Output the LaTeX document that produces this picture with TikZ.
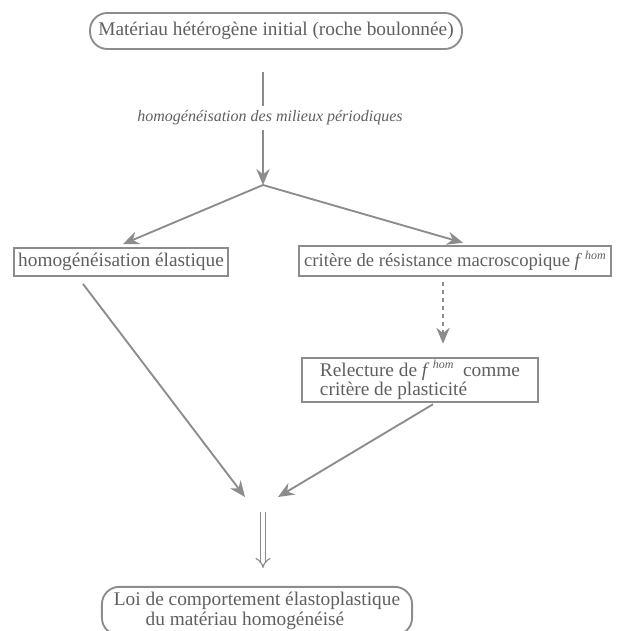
\documentclass[tikz,border=0pt]{standalone}
\usepackage{fontspec}
\setmainfont{Liberation Serif}
\usetikzlibrary{arrows.meta,calc}

\definecolor{scanline}{RGB}{140,140,140}
\definecolor{scantext}{RGB}{95,95,95}

\tikzset{
  flowbox/.style={draw=scanline, line width=1.4pt, text=scantext, font=\fontsize{14.5}{15}\selectfont, inner sep=3pt},
  roundbox/.style={flowbox, rounded corners=13pt, inner xsep=6pt},
  flowarrow/.style={draw=scanline, line width=1.4pt, -{Stealth[length=12pt,width=10pt,inset=4pt]}},
}
\newcommand{\fhom}{\textit{f}\,\raisebox{0.85ex}{\fontsize{9}{9}\selectfont\textit{hom}}}

\begin{document}
\begin{tikzpicture}[x=0.75pt, y=-0.75pt]
  \useasboundingbox (0,0) rectangle (617,631);

  % starting material
  \node[roundbox, minimum height=27pt, minimum width=279pt] (init) at (276,31)
    {Matériau hétérogène initial (roche boulonnée)};

  % homogenisation step
  \coordinate (homtop) at (263,72);
  \node[text=scantext, font=\fontsize{12}{13}\selectfont\itshape, inner sep=3pt] (homlbl) at (270,118)
    {homogénéisation des milieux périodiques};
  \coordinate (split) at (263,185);
  \draw[scanline, line width=1.4pt] (homtop) -- (homtop |- homlbl.north);
  \draw[flowarrow] (homtop |- homlbl.south) -- (split);

  % the two branches
  \node[flowbox, minimum width=160pt, minimum height=21pt] (elas) at (121,262) {homogénéisation élastique};
  \node[flowbox, font=\fontsize{14}{15}\selectfont, minimum height=23pt, inner xsep=4pt] (crit) at (455,261)
    {critère de résistance macroscopique \fhom};
  \draw[flowarrow] (split) -- ($(elas.north)+(2,-3)$);
  \draw[flowarrow] (split) -- ($(crit.north)+(8,-2)$);

  % plasticity reading
  \node[flowbox, align=left, font=\fontsize{14.5}{14.5}\selectfont, inner xsep=9pt, inner ysep=2pt,
        minimum width=177pt, minimum height=33pt] (relec) at (420,380)
    {Relecture de \fhom\ \ comme\\critère de plasticité};
  \draw[flowarrow, dashed] ($(crit.south)+(-12,5)$) -- ($(relec.north)+(23,-13)$);

  % merging
  \coordinate (mergel) at (245,497);
  \coordinate (merger) at (278,497);
  \draw[flowarrow] ($(elas.south)+(-38,7)$) -- (mergel);
  \draw[flowarrow] ($(relec.south)+(13,1)$) -- (merger);

  % final behaviour law
  \node[roundbox, align=left, font=\fontsize{14.5}{15}\selectfont, inner ysep=4pt, inner xsep=9pt] (loi) at (257,611)
    {Loi de comportement élastoplastique\\\hphantom{Loi }du matériau homogénéisé};
  \coordinate (impltop) at (263,512);
  \draw[scanline, line width=0.9pt, double distance=3pt, -{Implies}] (impltop) -- (impltop |- 0,568);

\end{tikzpicture}
\end{document}
